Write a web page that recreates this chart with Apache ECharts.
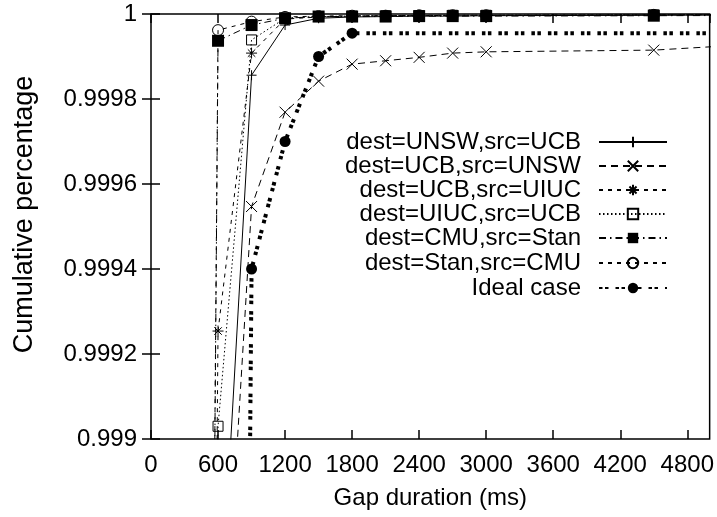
<!DOCTYPE html>
<html>
<head>
<meta charset="utf-8">
<script src="https://cdn.jsdelivr.net/npm/echarts@6/dist/echarts.min.js"></script>
<style>
  html, body { margin: 0; padding: 0; background: #fff; }
  #chart { width: 717px; height: 517px; }
</style>
</head>
<body>
<div id="chart"></div>
<script>
// Gap durations (ms) at which the CDF was sampled
const gapMs = [300, 600, 900, 1200, 1500, 1800, 2100, 2400, 2700, 3000, 4500, 6000];

// Cumulative percentage per path (null = no sample)
const unswFromUcb = [0.990, 0.99847, 0.999856, 0.999974, 0.999990, 0.999993, 0.999994, 0.999995, 0.999995, 0.999996, 0.999997, 0.999998];
const ucbFromUnsw = [0.990, 0.998243, 0.999547, 0.999769, 0.999842, 0.999882, 0.999890, 0.999898, 0.999908, 0.999911, 0.999915, 0.999938];
const ucbFromUiuc = [0.990, 0.999254, 0.999908, 0.999988, 0.999993, 0.999995, 0.999996, 0.999996, 0.999997, 0.999997, 0.999998, 0.999999];
const uiucFromUcb = [0.990, 0.999030, 0.999939, 0.999990, 0.999994, 0.999995, 0.999996, 0.999996, 0.999997, 0.999997, 0.999998, 0.999999];
const cmuFromStan = [0.990, 0.999937, 0.999974, 0.999990, 0.999994, 0.999994, 0.999994, 0.999995, 0.999995, 0.999995, 0.999996, 0.999997];
const stanFromCmu = [0.990, 0.999962, 0.999982, 0.999993, 0.999995, 0.999996, 0.999996, 0.999997, 0.999997, 0.999997, 0.999998, 0.999999];
const idealCase   = [null, 0.990, 0.9994, 0.9997, 0.9999, 0.999955, null, null, null, null, null, 0.999955];

const seriesNames = [
  'dest=UNSW,src=UCB',
  'dest=UCB,src=UNSW',
  'dest=UCB,src=UIUC',
  'dest=UIUC,src=UCB',
  'dest=CMU,src=Stan',
  'dest=Stan,src=CMU',
  'Ideal case'
];

const xTickLabels = ['0', '600', '1200', '1800', '2400', '3000', '3600', '4200', '4800'];
const yTickLabels = ['0.999', '0.9992', '0.9994', '0.9996', '0.9998', '1'];

const FONT = 'Liberation Sans';
const FS = 24;

function pairs(vals) {
  const out = [];
  vals.forEach((v, i) => { if (v !== null) out.push([gapMs[i], v]); });
  return out;
}

const plusPath = 'path://M5,0V10M0,5H10';
const crossPath = 'path://M0,0L10,10M10,0L0,10';
const starPath = 'path://M5,0V10M0,5H10M1.6,1.6L8.4,8.4M8.4,1.6L1.6,8.4';

const styles = [
  { vals: unswFromUcb, dash: 'solid', width: 1, symbol: plusPath, size: 10, fill: '#000' },
  { vals: ucbFromUnsw, dash: [7, 5], width: 1, symbol: crossPath, size: 11, fill: '#000' },
  { vals: ucbFromUiuc, dash: [4, 5], width: 1, symbol: starPath, size: 11, fill: '#000' },
  { vals: uiucFromUcb, dash: [1.5, 2.5], width: 1, symbol: 'rect', size: 10, fill: 'rgba(0,0,0,0)' },
  { vals: cmuFromStan, dash: [7, 4, 1.5, 4], width: 1, symbol: 'rect', size: 12, fill: '#000' },
  { vals: stanFromCmu, dash: [4, 5], width: 1, symbol: 'circle', size: 11, fill: 'rgba(0,0,0,0)' },
  { vals: idealCase, dash: [3.5, 2.5, 3.5, 7], width: 4, symbol: 'circle', size: 11, fill: '#000' }
];

const series = styles.map((s, i) => ({
  name: seriesNames[i],
  type: 'line',
  data: pairs(s.vals),
  clip: true,
  showSymbol: true,
  showAllSymbol: true,
  symbol: s.symbol,
  symbolSize: s.size,
  lineStyle: { color: '#000', width: s.width, type: s.dash },
  itemStyle: { color: s.fill, borderColor: '#000', borderWidth: s.fill === '#000' && (s.symbol === 'rect' || s.symbol === 'circle') ? 0 : 1 },
  emphasis: { disabled: true },
  silent: true,
  z: 2 + i
}));

// One legend per entry so every sample lines up on the right
const legendTops = [142, 166, 190, 214, 238, 263, 288];
const legends = seriesNames.map((n, i) => ({
  data: [n],
  right: 49,
  top: legendTops[i] - 12,
  orient: 'vertical',
  align: 'right',
  padding: 0,
  itemWidth: 68,
  itemHeight: 13,
  selectedMode: false,
  textStyle: { fontFamily: FONT, fontSize: FS, color: '#000', padding: [0, 13, 0, 0] }
}));

const tickStyle = { show: true, inside: true, length: 9, lineStyle: { color: '#000', width: 1.5 } };

const option = {
  animation: false,
  backgroundColor: '#fff',
  grid: { left: 151, right: 6, top: 14, bottom: 78, show: true, borderColor: '#000', borderWidth: 1.5, backgroundColor: 'transparent' },
  legend: legends,
  xAxis: [{
    type: 'value', min: 0, max: 5000, interval: 600,
    name: 'Gap duration (ms)', nameLocation: 'middle', nameGap: 47,
    nameTextStyle: { fontFamily: FONT, fontSize: FS, color: '#000' },
    axisLine: { show: false }, splitLine: { show: false },
    axisTick: tickStyle,
    axisLabel: {
      fontFamily: FONT, fontSize: FS, color: '#000', margin: 14, showMaxLabel: false,
      formatter: v => { const k = Math.round(v / 600); return (Math.abs(v - k * 600) < 1e-6 && k < xTickLabels.length) ? xTickLabels[k] : ''; }
    }
  }, {
    type: 'value', position: 'top', min: 0, max: 5000, interval: 600,
    axisLine: { show: false }, splitLine: { show: false }, axisLabel: { show: false },
    axisTick: tickStyle
  }],
  yAxis: [{
    type: 'value', min: 0.999, max: 1, interval: 0.0002,
    name: 'Cumulative percentage', nameLocation: 'middle', nameGap: 113, nameRotate: 90,
    nameTextStyle: { fontFamily: FONT, fontSize: 27, color: '#000', padding: [0, 0, 0, 24] },
    axisLine: { show: false }, splitLine: { show: false },
    axisTick: tickStyle,
    axisLabel: {
      fontFamily: FONT, fontSize: FS, color: '#000', margin: 14,
      formatter: v => { const k = Math.round((v - 0.999) / 0.0002); return (k >= 0 && k < yTickLabels.length) ? yTickLabels[k] : ''; }
    }
  }, {
    type: 'value', position: 'right', min: 0.999, max: 1, interval: 0.0002,
    axisLine: { show: false }, splitLine: { show: false }, axisLabel: { show: false },
    axisTick: tickStyle
  }],
  series: series
};

const chart = echarts.init(document.getElementById('chart'), null, { renderer: 'canvas' });
chart.setOption(option);
</script>
</body>
</html>
